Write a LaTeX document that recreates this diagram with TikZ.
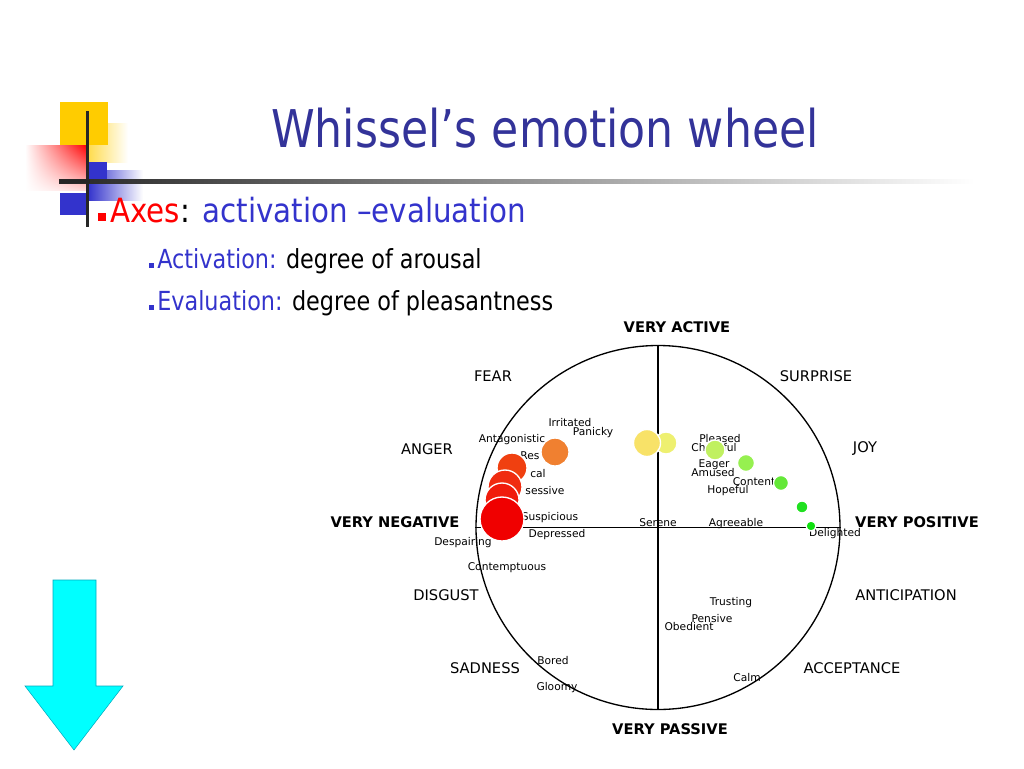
\documentclass[tikz,border=0pt]{standalone}
\usepackage{fontspec}
\setmainfont{DejaVu Sans}
\usepackage{graphicx}
\usetikzlibrary{shadings}

\definecolor{titleblue}{RGB}{51,51,153}
\definecolor{textblue}{RGB}{51,51,204}
\definecolor{deckyellow}{RGB}{255,204,0}
\definecolor{deckblue}{RGB}{51,51,204}
\definecolor{arrowcyan}{RGB}{0,255,255}
\definecolor{arrowedge}{RGB}{0,170,190}
\definecolor{spotorange}{RGB}{240,128,48}
\definecolor{spotredA}{RGB}{240,64,16}
\definecolor{spotredB}{RGB}{240,44,16}
\definecolor{spotredC}{RGB}{240,28,12}
\definecolor{spotred}{RGB}{240,0,0}
\definecolor{spotyellow}{RGB}{248,226,104}
\definecolor{spotpale}{RGB}{238,240,112}
\definecolor{spotgreenA}{RGB}{192,240,96}
\definecolor{spotgreenB}{RGB}{150,240,80}
\definecolor{spotgreenC}{RGB}{100,232,56}
\definecolor{spotgreenD}{RGB}{32,224,32}
\definecolor{spotgreenE}{RGB}{16,224,16}

\newcommand{\narrow}[2][0.85]{\scalebox{#1}[1]{#2}}

\tikzset{
  slidetext/.style={inner sep=0pt, anchor=base west},
  pole/.style={inner sep=0pt, font=\fontsize{11}{13}\bfseries\selectfont},
  emocat/.style={inner sep=0pt, font=\fontsize{11}{13}\selectfont},
  mood/.style={inner sep=0pt, anchor=base, font=\fontsize{8}{9}\selectfont},
  moodspot/.style={draw=white, line width=1pt}
}

\begin{document}
\begin{tikzpicture}[x=0.75pt,y=-0.75pt]
\useasboundingbox (0,0) rectangle (1024,768);

% corner decoration
\shade[upper right=red, upper left=white, lower left=white, lower right=red!15] (25,145) rectangle (87,190);
\shade[left color=deckyellow!70, right color=white] (88,123) rectangle (128,162);
\fill[deckyellow] (60,102) rectangle (108,145);
\shade[left color=deckblue, right color=white] (88,170) rectangle (143,200);
\fill[deckblue] (88,162) rectangle (107,183);
\fill[deckblue] (60,193) rectangle (87,215);
\shade[left color=black!85, right color=white] (59,179) rectangle (975,183);
\fill[black!85] (59,179) rectangle (90,183);
\fill[black!85] (85.5,111) rectangle (89,227);

% title and bullets
\node[inner sep=0pt, anchor=base, text=titleblue, font=\fontsize{39}{44}\selectfont] (title) at (545,147) {\narrow{Whissel’s emotion wheel}};
\fill[red] (98,213) rectangle (106,221);
\node[slidetext, font=\fontsize{25}{30}\selectfont] (axes) at (110,222) {\narrow[0.88]{\textcolor{red}{Axes}: \textcolor{textblue}{activation –evaluation}}};
\fill[textblue] (149,263) rectangle (154,268);
\node[slidetext, font=\fontsize{19.7}{24}\selectfont] (actv) at (157,268) {\narrow{\textcolor{textblue}{Activation:} degree of arousal}};
\fill[textblue] (149,305) rectangle (154,310);
\node[slidetext, font=\fontsize{19.7}{24}\selectfont] (eval) at (157,310) {\narrow{\textcolor{textblue}{Evaluation:} degree of pleasantness}};

% down arrow
\filldraw[fill=arrowcyan, draw=arrowedge, line width=0.4pt] (53,580) -- (96,580) -- (96,686) -- (123,686) -- (74,750) -- (25,686) -- (53,686) -- cycle;

% wheel
\node[circle, draw, line width=1pt, minimum size=273pt, inner sep=0pt] (wheel) at (658,527.5) {};
\draw[line width=1pt] (wheel.north) -- (wheel.south);
\draw[line width=1pt] (wheel.west) -- (wheel.east);

\node[pole] (vactive) at (677,327) {VERY ACTIVE};
\node[pole] (vpassive) at (670,729) {VERY PASSIVE};
\node[pole] (vneg) at (395,522) {VERY NEGATIVE};
\node[pole] (vpos) at (917,522) {VERY POSITIVE};
\node[emocat] (fear) at (493,376) {FEAR};
\node[emocat] (surprise) at (816,376) {SURPRISE};
\node[emocat] (anger) at (427,449) {ANGER};
\node[emocat] (joy) at (865,449) {JOY};
\node[emocat] (disgust) at (446,595) {DISGUST};
\node[emocat] (antic) at (906,595) {ANTICIPATION};
\node[emocat] (sadness) at (485,668) {SADNESS};
\node[emocat] (accept) at (852,668) {ACCEPTANCE};

% mood words
\node[mood] (irritated) at (570,426) {Irritated};
\node[mood] (panicky) at (593,435) {Panicky};
\node[mood] (antag) at (512,442) {Antagonistic};
\node[mood] (resent) at (530,459) {Res};
\node[mood] (critical) at (538,477) {cal};
\node[mood] (possess) at (545,494) {sessive};
\node[mood] (suspic) at (550,520) {Suspicious};
\node[mood] (depress) at (557,537) {Depressed};
\node[mood] (despair) at (463,545) {Despairing};
\node[mood] (contempt) at (507,570) {Contemptuous};
\node[mood] (serene) at (658,526.5) {Serene};
\node[mood] (agree) at (736,526.5) {Agreeable};
\node[mood] (delight) at (835,536) {Delighted};
\node[mood] (pleased) at (720,442) {Pleased};
\node[mood] (cheer) at (714,451) {Cheerful};
\node[mood] (eager) at (714,467) {Eager};
\node[mood] (amused) at (713,476) {Amused};
\node[mood] (content) at (754,485) {Content};
\node[mood] (hopeful) at (728,493) {Hopeful};
\node[mood] (trusting) at (731,605) {Trusting};
\node[mood] (pensive) at (712,622) {Pensive};
\node[mood] (obedient) at (689,630) {Obedient};
\node[mood] (bored) at (553,664) {Bored};
\node[mood] (gloomy) at (557,690) {Gloomy};
\node[mood] (calm) at (747,681) {Calm};

% spots
\filldraw[moodspot, fill=spotorange] (555,452) circle [radius=14];
\filldraw[moodspot, fill=spotredA] (512,468) circle [radius=15];
\filldraw[moodspot, fill=spotredB] (505,487) circle [radius=17];
\filldraw[moodspot, fill=spotredC] (502,500) circle [radius=17];
\filldraw[moodspot, fill=spotred] (502,519) circle [radius=22];
\filldraw[moodspot, fill=spotpale] (666,443) circle [radius=11];
\filldraw[moodspot, fill=spotyellow] (647,443) circle [radius=13.5];
\filldraw[moodspot, fill=spotgreenA] (715,450) circle [radius=10];
\filldraw[moodspot, fill=spotgreenB] (746,463) circle [radius=8.5];
\filldraw[moodspot, fill=spotgreenC] (781,483) circle [radius=7.5];
\filldraw[moodspot, fill=spotgreenD] (802,507) circle [radius=6];
\filldraw[moodspot, fill=spotgreenE] (811,526) circle [radius=5];
\end{tikzpicture}
\end{document}
